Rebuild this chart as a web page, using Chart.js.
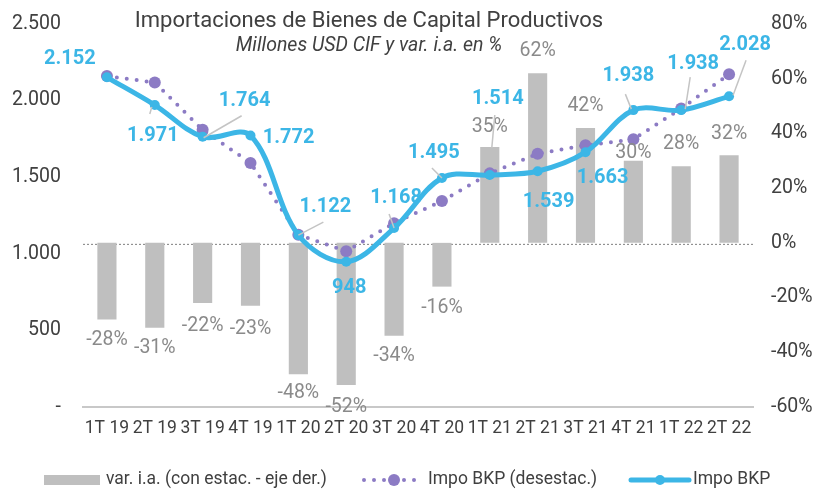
<!DOCTYPE html>
<html>
<head>
<meta charset="utf-8">
<script src="https://cdn.jsdelivr.net/npm/chart.js@4.4.1/dist/chart.umd.min.js"></script>
<style>
  html, body { margin: 0; padding: 0; background: #fff; }
  #wrap { width: 814px; height: 490px; }
</style>
</head>
<body>
<div id="wrap"><canvas id="chart" width="814" height="490"></canvas></div>
<script>
// data
const categories = ["1T 19", "2T 19", "3T 19", "4T 19", "1T 20", "2T 20", "3T 20", "4T 20",
                    "1T 21", "2T 21", "3T 21", "4T 21", "1T 22", "2T 22"];
const varIA = [-28, -31, -22, -23, -48, -52, -34, -16, 35, 62, 42, 30, 28, 32];
const impoDesestac = [2160, 2118, 1809, 1593, 1125, 1017, 1200, 1345, 1525, 1653, 1708, 1747, 1949, 2172];
const impoBKP = [2152, 1971, 1764, 1772, 1122, 948, 1168, 1495, 1514, 1539, 1663, 1938, 1938, 2028];
const leftTicks = [0, 500, 1000, 1500, 2000, 2500];
const rightTicks = [-60, -40, -20, 0, 20, 40, 60, 80];

const TITLE = "Importaciones de Bienes de Capital Productivos";
const SUBTITLE = "Millones USD CIF y var. i.a. en %";
const LEGEND = ["var. i.a. (con estac. - eje der.)", "Impo BKP (desestac.)", "Impo BKP"];

// colours
const BLUE = "#3cb6e6";
const PURPLE = "#8c7bc4";
const GREY_BAR = "#bfbfbf";
const TEXT = "#404040";
const FONT = "Roboto, 'Noto Sans', sans-serif";

// label placement (pixel offsets from the point / bar end)
const blueLabelOffsets = [[-37, -18], [-2, 31], [42, -36], [38, 2], [27, -28], [3, 26], [2, -30],
                          [-8, -25], [8, -76], [11, 31], [17, 26], [-5, -34], [12, -46], [16, -51]];
const blueLeaders = [null, [-5, 9, -3, 2], [1, 1, 39, -21], null, [0, 0, 25, -13], null, [-5, -14, 0, 0],
                     [-10, -10, 0, 0], [5, -60, 2, -27], null, null, [-8, -16, -2, -1], [9, -33, 4, -1], [17, -36, 4, -1]];
const barLabelDy = [21, 20, 23, 23, 19, 22, 20, 21, -20, -22, -22, -8, -22, -21];

function fmtThousands(v) {
  return String(v).replace(/\B(?=(\d{3})+(?!\d))/g, ".");
}

// vertical axes: fixed width, no extra top/bottom padding from tick labels
function fixY(width) {
  return (s) => { s.width = width; s.paddingTop = 0; s.paddingBottom = 0; };
}

const labelsPlugin = {
  id: "labels",
  beforeDatasetsDraw(chart) {
    const { ctx, chartArea } = chart;
    const y0 = chart.scales.y1.getPixelForValue(0);
    ctx.save();
    ctx.strokeStyle = "#7f7f7f";
    ctx.lineWidth = 1;
    ctx.setLineDash([2, 2]);
    ctx.beginPath();
    ctx.moveTo(chartArea.left, y0 + 1.5);
    ctx.lineTo(chartArea.right, y0 + 1.5);
    ctx.stroke();
    ctx.restore();
  },
  afterDatasetsDraw(chart) {
    const { ctx } = chart;
    ctx.save();
    ctx.textAlign = "center";
    ctx.textBaseline = "middle";

    // bar labels
    const barMeta = chart.getDatasetMeta(2);
    ctx.fillStyle = "#8a8a8a";
    ctx.font = "19.5px " + FONT;
    barMeta.data.forEach((bar, i) => {
      const yEnd = varIA[i] < 0 ? Math.max(bar.y, bar.base) : Math.min(bar.y, bar.base);
      ctx.fillText(varIA[i] + "%", bar.x, yEnd + barLabelDy[i]);
    });

    // leader lines + blue labels
    const lineMeta = chart.getDatasetMeta(0);
    ctx.strokeStyle = "#c4c4c4";
    ctx.lineWidth = 1.5;
    lineMeta.data.forEach((pt, i) => {
      const l = blueLeaders[i];
      if (!l) return;
      ctx.beginPath();
      ctx.moveTo(pt.x + l[0], pt.y + l[1]);
      ctx.lineTo(pt.x + l[2], pt.y + l[3]);
      ctx.stroke();
    });
    ctx.fillStyle = BLUE;
    ctx.font = "bold 20px " + FONT;
    lineMeta.data.forEach((pt, i) => {
      const o = blueLabelOffsets[i];
      ctx.fillText(fmtThousands(impoBKP[i]), pt.x + o[0], pt.y + o[1]);
    });
    ctx.restore();
  },
  afterDraw(chart) {
    const { ctx } = chart;
    ctx.save();
    ctx.textAlign = "center";
    ctx.textBaseline = "middle";
    ctx.fillStyle = TEXT;
    ctx.font = "22px " + FONT;
    ctx.fillText(TITLE, 369, 21);
    ctx.font = "italic 19.5px " + FONT;
    ctx.fillText(SUBTITLE, 369, 46);

    // legend
    const ly = 480;
    ctx.textAlign = "left";
    ctx.font = "17.5px " + FONT;
    ctx.fillStyle = GREY_BAR;
    ctx.fillRect(44, ly - 5, 56, 10);
    ctx.fillStyle = TEXT;
    ctx.fillText(LEGEND[0], 106, ly);

    ctx.strokeStyle = PURPLE;
    ctx.lineWidth = 4;
    ctx.lineCap = "round";
    ctx.setLineDash([0, 10]);
    ctx.beginPath();
    ctx.moveTo(364, ly);
    ctx.lineTo(424, ly);
    ctx.stroke();
    ctx.setLineDash([]);
    ctx.fillStyle = PURPLE;
    ctx.beginPath();
    ctx.arc(394, ly, 6, 0, Math.PI * 2);
    ctx.fill();
    ctx.fillStyle = TEXT;
    ctx.fillText(LEGEND[1], 428, ly);

    ctx.strokeStyle = BLUE;
    ctx.lineWidth = 5;
    ctx.beginPath();
    ctx.moveTo(631, ly);
    ctx.lineTo(689, ly);
    ctx.stroke();
    ctx.fillStyle = BLUE;
    ctx.beginPath();
    ctx.arc(660, ly, 5, 0, Math.PI * 2);
    ctx.fill();
    ctx.fillStyle = TEXT;
    ctx.fillText(LEGEND[2], 693, ly);
    ctx.restore();
  }
};

const ctx = document.getElementById("chart").getContext("2d");
new Chart(ctx, {
  data: {
    labels: categories,
    datasets: [
      {
        type: "line", label: LEGEND[2], data: impoBKP, yAxisID: "y", order: 0,
        borderColor: BLUE, backgroundColor: BLUE, borderWidth: 5, tension: 0.35,
        pointRadius: 5, pointBackgroundColor: BLUE, pointBorderWidth: 0
      },
      {
        type: "line", label: LEGEND[1], data: impoDesestac, yAxisID: "y", order: 1,
        borderColor: PURPLE, backgroundColor: PURPLE, borderWidth: 4, borderDash: [0, 10],
        borderCapStyle: "round", tension: 0, pointRadius: 6, pointBackgroundColor: PURPLE, pointBorderWidth: 0
      },
      {
        type: "bar", label: LEGEND[0], data: varIA, yAxisID: "y1", order: 2,
        backgroundColor: GREY_BAR, barPercentage: 0.4, categoryPercentage: 1
      }
    ]
  },
  options: {
    responsive: false,
    animation: false,
    layout: { padding: { top: 24, bottom: 43, left: 0, right: 0 } },
    plugins: { legend: { display: false }, tooltip: { enabled: false }, title: { display: false } },
    scales: {
      x: {
        offset: true,
        grid: { display: false, drawTicks: false },
        border: { display: true, color: "#c8c8c8", width: 2 },
        ticks: { color: TEXT, font: { family: FONT, size: 17.5 }, maxRotation: 0, autoSkip: false, padding: 11 },
        afterFit: (s) => { s.height = 40; }
      },
      y: {
        position: "left", min: 0, max: 2500,
        grid: { display: false, drawTicks: false },
        border: { display: false },
        afterBuildTicks: (s) => { s.ticks = leftTicks.map(v => ({ value: v })); },
        ticks: {
          color: TEXT, font: { family: FONT, size: 19.5 }, padding: 22,
          callback: (v) => v === 0 ? "-" : fmtThousands(v)
        },
        afterFit: fixY(83)
      },
      y1: {
        position: "right", min: -60, max: 80,
        grid: { display: false, drawTicks: false },
        border: { display: false },
        afterBuildTicks: (s) => { s.ticks = rightTicks.map(v => ({ value: v })); },
        ticks: { color: TEXT, font: { family: FONT, size: 19.5 }, padding: 18, callback: (v) => v + "%" },
        afterFit: fixY(61)
      }
    }
  },
  plugins: [labelsPlugin]
});
</script>
</body>
</html>
